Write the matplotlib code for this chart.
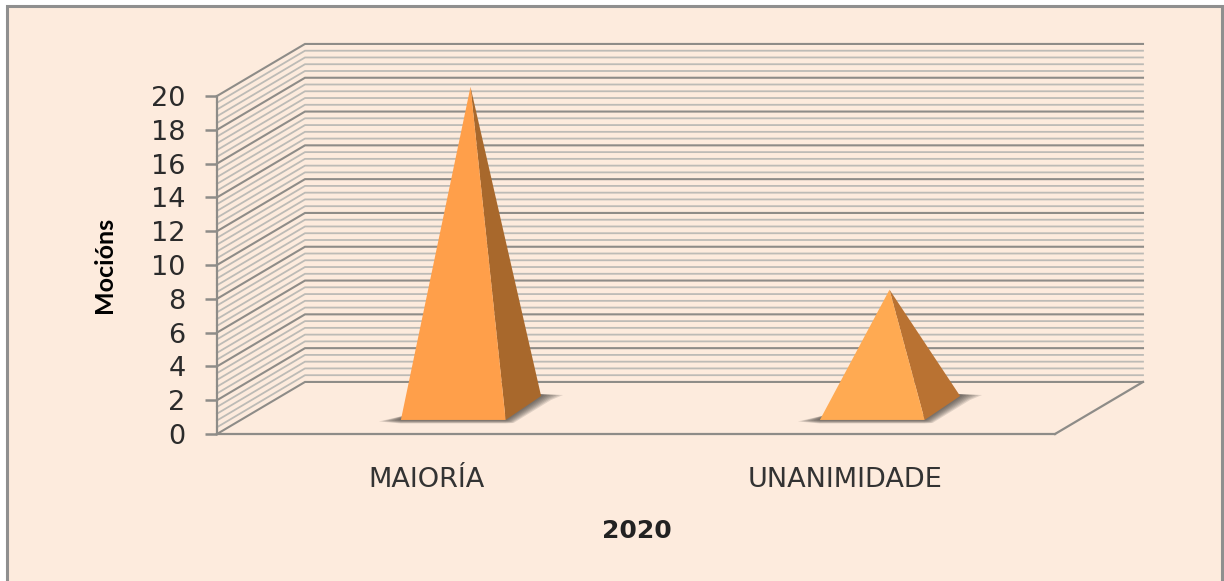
import numpy as np
import matplotlib
matplotlib.use('Agg')
import matplotlib.pyplot as plt
from matplotlib.patches import Rectangle, Polygon

# values
categorias = ['MAIORÍA', 'UNANIMIDADE']
mocions = [19, 7]
ticks_y = list(range(0, 21, 2))

# colours
bg = '#fdebdd'
frame_col = '#8f8f8f'
major_col = '#8e8c88'
minor_col = '#bdbbb6'
front_cols = ['#ff9f4a', '#ffaa52']
side_cols = ['#a8682c', '#b97232']

# 3D look: how far the back wall sits from the front plane, in data units
depth_x = 0.21
depth_y = 3.08
base_w = 0.25
base_near = 0.27
base_far = 0.73

# size of one pixel in data units
px_x = 2 / 838
px_y = 20 / 338


def proj(x, v, d):
    return (x + d * depth_x, v + d * depth_y)


fig = plt.figure(figsize=(12.24, 5.81), dpi=100, facecolor='white')
fig.add_artist(Rectangle((6.5 / 1224, -0.01), (1222 - 6.5) / 1224, (575 + 6) / 581,
                         transform=fig.transFigure, fc=bg, ec=frame_col, lw=2.2, zorder=-1))

ax = fig.add_axes([217 / 1224, (581 - 434) / 581, 838 / 1224, 338 / 581])
ax.patch.set_alpha(0)
ax.set_xlim(0, 2)
ax.set_ylim(0, 20)
for s in ['top', 'right']:
    ax.spines[s].set_visible(False)
for s in ['left', 'bottom']:
    ax.spines[s].set_color(major_col)
    ax.spines[s].set_linewidth(1.6)

# walls
for v in np.arange(0, 20.01, 0.4):
    major = abs(v / 2 - round(v / 2)) < 1e-6
    col = major_col if major else minor_col
    lw = 1.5 if major else 1.3
    p0 = proj(0, v, 0)
    p1 = proj(0, v, 1)
    p2 = proj(2, v, 1)
    ax.plot([p0[0], p1[0], p2[0]], [p0[1], p1[1], p2[1]], color=col, lw=lw,
            clip_on=False, solid_joinstyle='miter', zorder=1)

# floor edge on the right
p0 = proj(2, 0, 0)
p1 = proj(2, 0, 1)
ax.plot([p0[0], p1[0]], [p0[1], p1[1]], color=major_col, lw=1.6, clip_on=False, zorder=1)

# pyramids
for i, val in enumerate(mocions):
    xc = i + 0.5
    fl = proj(xc - base_w / 2, 0, base_near)
    fr = proj(xc + base_w / 2, 0, base_near)
    br = proj(xc + base_w / 2, 0, base_far)
    top = proj(xc, val, 0.5)
    # base is slightly off the plain projection
    fl = (fl[0] + 3 * px_x, fl[1])
    fr = (fr[0] + 3 * px_x, fr[1])
    br = (br[0] - 2 * px_x, br[1])
    # soft shadow on the floor, layers shrink towards the base
    for k in range(7):
        s = 1 - k / 7
        pts = [(fl, -22 * s, -1.5 * s), (fl, 6, 5), (fr, 0, 5), (br, -2, 2),
               (br, 22 * s, 1), (br, 10 * s, -4 * s), (fr, 8 * s, -3 * s),
               (fr, 0, -3.5 * s), (fl, 0, -3.5 * s)]
        ax.add_patch(Polygon([(b[0] + dx * px_x, b[1] + dy * px_y) for b, dx, dy in pts],
                             fc='#3e3a36', ec='none', alpha=0.15, zorder=2, clip_on=False))
    ax.add_patch(Polygon([fr, br, top], fc=side_cols[i], ec='none', zorder=3, clip_on=False))
    ax.add_patch(Polygon([fl, fr, top], fc=front_cols[i], ec='none', zorder=4, clip_on=False))

ax.set_yticks(ticks_y)
ax.set_xticks([0.5, 1.5], categorias)
ax.tick_params(axis='y', length=8.5, width=1.8, color=major_col, pad=14,
               labelsize=19.5, labelcolor='#2b2b2b')
ax.tick_params(axis='x', length=0, pad=24, labelsize=19.5, labelcolor='#333333')

ax.set_ylabel('Mocións', fontsize=18, family=['Lato', 'DejaVu Sans'], fontweight='bold', color='black')
ax.yaxis.set_label_coords((104 - 217) / 838, (434 - 265) / 338)
ax.set_xlabel('2020', fontsize=18, fontweight='bold', color='#222222')
ax.xaxis.set_label_coords((637 - 217) / 838, -(531 - 434) / 338)
ax.xaxis.label.set_verticalalignment('center')
ax.yaxis.label.set_verticalalignment('center')

fig.savefig('out.png', dpi=100, facecolor='white')
